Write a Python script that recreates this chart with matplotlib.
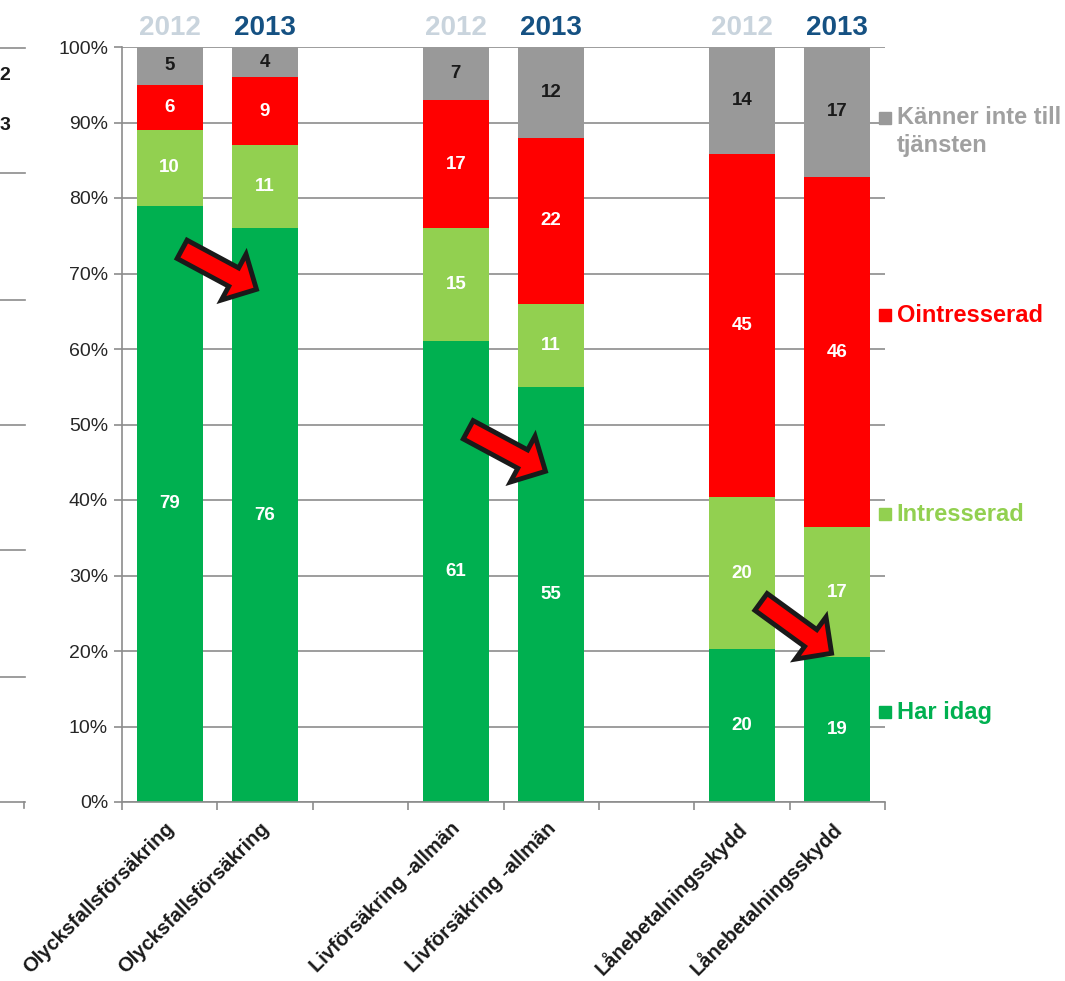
import matplotlib
matplotlib.use("Agg")
import matplotlib.pyplot as plt
import numpy as np
from matplotlib.lines import Line2D

plt.rcParams["font.family"] = ["Liberation Sans", "DejaVu Sans"]

# data (percent, each column normalised to 100 %)
slots = [0, 1, 3, 4, 6, 7]
bar_labels = ["Olycksfallsförsäkring", "Olycksfallsförsäkring",
              "Livförsäkring -allmän", "Livförsäkring -allmän",
              "Lånebetalningsskydd", "Lånebetalningsskydd"]
years = ["2012", "2013", "2012", "2013", "2012", "2013"]
har_idag = [79, 76, 61, 55, 20, 19]
intresserad = [10, 11, 15, 11, 20, 17]
ointresserad = [6, 9, 17, 22, 45, 46]
kanner_inte = [5, 4, 7, 12, 14, 17]

series_colors = ["#00B050", "#92D050", "#FF0000", "#999999"]
label_colors = ["white", "white", "white", "#1a1a1a"]
legend_names = ["Har idag", "Intresserad", "Ointresserad", "Känner inte till"]
legend_text_colors = ["#00B050", "#92D050", "#FF0000", "#A0A0A0"]
legend_y = [11.9, 38.1, 64.5, 90.6]
year_colors = {"2012": "#C9D4DD", "2013": "#155182"}

# arrows: (x_start, y_start, x_end, y_end) in data units
arrows = [(0.13, 73.2, 0.91, 67.9), (3.13, 49.3, 3.94, 43.8), (6.2, 26.5, 6.94, 19.7)]

fig = plt.figure(figsize=(10.65, 9.81), dpi=100)
ax = fig.add_axes([122 / 1065, 1 - 802 / 981, 763 / 1065, 755 / 981])

data = np.array([har_idag, intresserad, ointresserad, kanner_inte], dtype=float)
data = data / data.sum(axis=0) * 100.0
bottom = np.zeros(len(slots))
for vals, raw, color, lcol in zip(data, [har_idag, intresserad, ointresserad, kanner_inte],
                                  series_colors, label_colors):
    ax.bar(slots, vals, bottom=bottom, width=0.69, color=color, zorder=2)
    for x, b, v, r in zip(slots, bottom, vals, raw):
        ax.text(x, b + v / 2, str(r), ha="center", va="center", color=lcol,
                fontsize=13.5, fontweight="bold", zorder=3)
    bottom += vals

for x, yr in zip(slots, years):
    ax.text(x, 101.6, yr, ha="center", va="baseline", fontsize=20, fontweight="bold",
            color=year_colors[yr], clip_on=False)

for x0, y0, x1, y1 in arrows:
    ax.annotate("", xy=(x1, y1), xytext=(x0, y0),
                arrowprops=dict(arrowstyle="simple,head_length=0.62,head_width=1.25,tail_width=0.5",
                                mutation_scale=30, fc="#FF0000", ec="#1a1a1a", lw=3.5,
                                shrinkA=0, shrinkB=0, joinstyle="miter"),
                zorder=5)

ax.set_xlim(-0.5, 7.5)
ax.set_ylim(0, 100)
ax.set_yticks(np.arange(0, 101, 10))
ax.set_yticklabels([f"{v}%" for v in range(0, 101, 10)], fontsize=14, color="#262626")
ax.set_xticks(np.arange(-0.5, 8.0, 1.0))
ax.set_xticklabels([])
ax.set_xticks(slots, minor=True)
ax.set_xticklabels(bar_labels, minor=True, rotation=45, ha="right", va="center_baseline",
                   rotation_mode="anchor", fontsize=14.5, fontweight="bold", color="#1a1a1a")
ax.tick_params(axis="x", which="minor", length=0, pad=16)
ax.tick_params(axis="x", which="major", length=6, color="#8c8c8c", width=1.2)
ax.tick_params(axis="y", length=6, color="#8c8c8c", width=1.2, pad=4)
ax.yaxis.grid(True, color="#8c8c8c", lw=1.2, zorder=0)
ax.set_axisbelow(True)
for side in ["top", "right"]:
    ax.spines[side].set_visible(False)
for side in ["left", "bottom"]:
    ax.spines[side].set_color("#8c8c8c")
    ax.spines[side].set_linewidth(1.2)

# legend at right end of the bars
tr = ax.get_yaxis_transform()
for name, col, tcol, y in zip(legend_names, series_colors, legend_text_colors, legend_y):
    ax.plot([1.0], [y], marker="s", ms=8, color=col, transform=tr, clip_on=False, zorder=4)
    ax.text(1.0155, y, name, transform=tr, ha="left", va="center", fontsize=17,
            fontweight="bold", color=tcol, clip_on=False)
ax.text(1.0155, 87.0, "tjänsten", transform=tr, ha="left", va="center", fontsize=17,
        fontweight="bold", color=legend_text_colors[3], clip_on=False)

# cut-off remnants of the neighbouring chart at the left edge
for ypx in [48, 173, 300, 425, 550, 677, 802]:
    fig.add_artist(Line2D([0, 25 / 1065], [1 - ypx / 981] * 2, color="#8c8c8c", lw=1.2,
                          transform=fig.transFigure))
fig.add_artist(Line2D([24 / 1065] * 2, [1 - 802 / 981, 1 - 808 / 981], color="#8c8c8c",
                      lw=1.2, transform=fig.transFigure))
fig.text(10 / 1065, 1 - 75 / 981, "2", ha="right", va="center", fontsize=14,
         fontweight="bold", color="#1a1a1a")
fig.text(10 / 1065, 1 - 125 / 981, "3", ha="right", va="center", fontsize=14,
         fontweight="bold", color="#1a1a1a")

fig.savefig("out.png", dpi=100)
